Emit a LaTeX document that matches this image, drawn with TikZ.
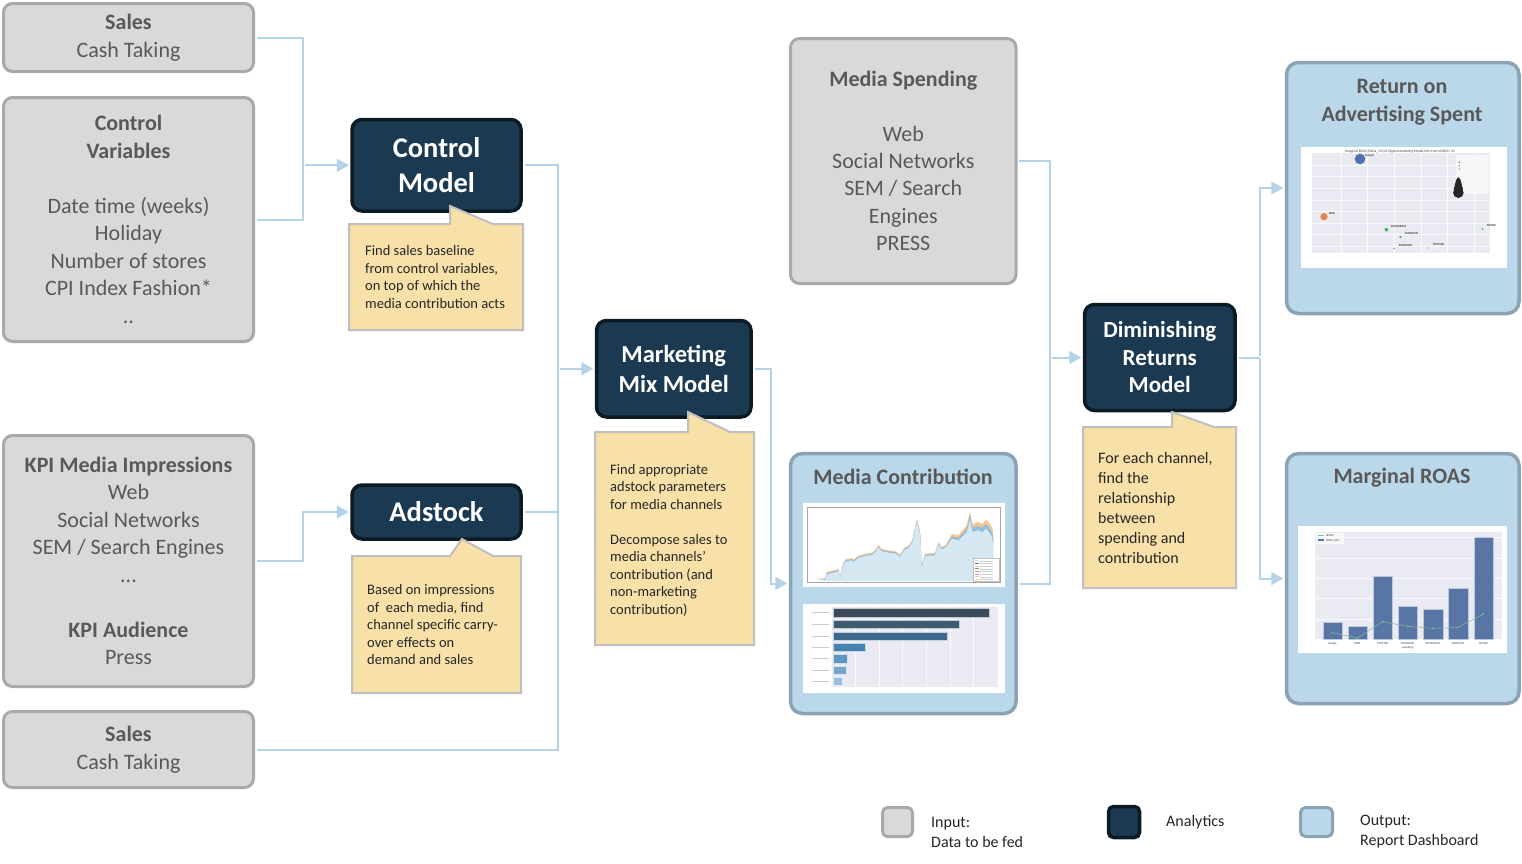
\documentclass[tikz,border=0pt]{standalone}
\usepackage{fontspec}
\setmainfont{Carlito}
\usetikzlibrary{arrows.meta,fit}
\definecolor{inFill}{HTML}{D9D9D9}
\definecolor{inDraw}{HTML}{A9A9A9}
\definecolor{inText}{HTML}{595959}
\definecolor{anFill}{HTML}{1B3A52}
\definecolor{anDraw}{HTML}{0C1A24}
\definecolor{outFill}{HTML}{BAD8EA}
\definecolor{outDraw}{HTML}{8CA3B4}
\definecolor{coFill}{HTML}{F8E1A9}
\definecolor{coDraw}{HTML}{BFBFBF}
\definecolor{coText}{HTML}{262626}
\definecolor{connC}{HTML}{B4D3E9}
\definecolor{plotBg}{HTML}{EAEAF2}
\definecolor{gridW}{HTML}{FAFAFD}
\definecolor{areaL}{HTML}{D5E7F1}
\definecolor{areaB}{HTML}{8FC0DF}
\definecolor{areaO}{HTML}{F9C58F}
\definecolor{hb1}{HTML}{394B5A}
\definecolor{hb2}{HTML}{3C5A71}
\definecolor{hb3}{HTML}{3D6A8C}
\definecolor{hb4}{HTML}{4682B0}
\definecolor{hb5}{HTML}{5F95C0}
\definecolor{hb6}{HTML}{78A6CB}
\definecolor{hb7}{HTML}{9BBDD8}
\definecolor{scBlue}{HTML}{4C72B0}
\definecolor{scOrange}{HTML}{DD8452}
\definecolor{scGreen}{HTML}{55A868}
\definecolor{barB}{HTML}{5875A6}
\definecolor{lineG}{HTML}{7FBF8A}
\begin{document}
\begin{tikzpicture}[x=1pt,y=-1pt,
  inbox/.style={draw=inDraw, fill=inFill, line width=3pt, rounded corners=9pt, inner sep=0pt, text=inText, align=center, font=\fontsize{22}{27.5}\selectfont},
  anbox/.style={draw=anDraw, fill=anFill, line width=3.5pt, rounded corners=10pt, inner sep=0pt, text=white, align=center},
  outbox/.style={draw=outDraw, fill=outFill, line width=3.5pt, rounded corners=12pt, inner sep=0pt},
  outtitle/.style={text=inText, align=center, inner sep=0pt, font=\bfseries\fontsize{22}{27.5}\selectfont},
  callout/.style={draw=coDraw, fill=coFill, line width=2pt},
  cotext/.style={text=coText, align=left, inner sep=0pt, anchor=west, font=\fontsize{14.5}{17.5}\selectfont},
  conn/.style={draw=connC, line width=2pt, shorten <=1.75pt},
  arr/.style={conn, -{Triangle[length=12pt,width=13pt]}, shorten >=1.5pt},
  legtext/.style={text=coText, align=left, inner sep=0pt, anchor=west, font=\fontsize{16}{20}\selectfont},
  tiny/.style={inner sep=0pt, text=black!75, font=\fontsize{3}{3.5}\selectfont},
  gridline/.style={draw=gridW, line width=0.9pt}
]
\useasboundingbox (0,0) rectangle (1522,863);
\fill[white] (0,0) rectangle (1522,863);

% ---------- input boxes ----------
\node[inbox, minimum width=250pt, minimum height=68pt] (s1) at (128.5,37.5) {\textbf{Sales}\\Cash Taking};
\node[inbox, minimum width=250pt, minimum height=244pt] (cv) at (128.5,219.5) {\textbf{Control}\\\textbf{Variables}\\[27.5pt]Date time (weeks)\\Holiday\\Number of stores\\CPI Index Fashion*\\..};
\node[inbox, minimum width=250pt, minimum height=251pt] (kpi) at (128.5,561) {\textbf{KPI Media Impressions}\\Web\\Social Networks\\SEM / Search Engines\\...\\[27.5pt]\textbf{KPI Audience}\\Press};
\node[inbox, minimum width=250pt, minimum height=76pt] (s2) at (128.5,749.5) {\textbf{Sales}\\Cash Taking};
\node[inbox, minimum width=225.5pt, minimum height=245pt, font=\fontsize{22}{27.3}\selectfont] (ms) at (903.25,161) {\textbf{Media Spending}\\[27.3pt]Web\\Social Networks\\SEM / Search\\Engines\\PRESS};

% ---------- analytics boxes ----------
\node[anbox, minimum width=169pt, minimum height=91.5pt, font=\bfseries\fontsize{28.5}{35}\selectfont] (cm) at (436.5,165.25) {Control\\Model};
\node[anbox, minimum width=169pt, minimum height=54pt, font=\bfseries\fontsize{28.5}{35}\selectfont] (ad) at (436.5,512) {Adstock};
\node[anbox, minimum width=154.5pt, minimum height=96.5pt, font=\bfseries\fontsize{24.5}{29.5}\selectfont] (mmm) at (673.75,368.75) {Marketing\\Mix Model};
\node[anbox, minimum width=150.5pt, minimum height=106pt, font=\bfseries\fontsize{23}{27.5}\selectfont] (drm) at (1159.75,357.5) {Diminishing\\Returns\\Model};

% ---------- output boxes ----------
\node[outbox, fit={(790.5,453.5) (1016,713.5)}] (mc) {};
\node[outbox, fit={(1286.5,62.5) (1519,313.5)}] (roas) {};
\node[outbox, fit={(1286.5,453.5) (1519,703.5)}] (mroas) {};
\node[outtitle] (mct) at (903,477) {Media Contribution};
\node[outtitle] (roast) at (1402,102) {Return on\\Advertising Spent};
\node[outtitle] (mroast) at (1402,478) {Marginal ROAS};

% ---------- callouts ----------
\path[callout] (349,224) -- (450,224) -- (450,206) -- (493,224) -- (523,224) -- (523,330) -- (349,330) -- cycle;
\node[cotext] (c1t) at (365,277) {Find sales baseline\\from control variables,\\on top of which the\\media contribution acts};
\path[callout] (352,556) -- (450,556) -- (462,539) -- (493,556) -- (521,556) -- (521,693) -- (352,693) -- cycle;
\node[cotext] (c2t) at (367,625) {Based on impressions\\of \ each media, find\\channel specific carry-\\over effects on\\demand and sales};
\path[callout] (595,432) -- (688,432) -- (688,412) -- (730,432) -- (754,432) -- (754,645) -- (595,645) -- cycle;
\node[cotext] (c3t) at (610,540) {Find appropriate\\adstock parameters\\for media channels\\[17.5pt]Decompose sales to\\media channels’\\contribution (and\\non-marketing\\contribution)};
\path[callout] (1083,427) -- (1172,427) -- (1172,412) -- (1214,427) -- (1236,427) -- (1236,588) -- (1083,588) -- cycle;
\node[cotext, font=\fontsize{16}{20}\selectfont] (c4t) at (1098,508) {For each channel,\\find the\\relationship\\between\\spending and\\contribution};

% ---------- connectors ----------
\coordinate (j1) at (303,165.25);
\draw[conn] (s1.east) -| (j1);
\draw[conn] (cv.east) -| (j1);
\draw[arr] (j1) -- (cm.west);
\draw[arr] (kpi.east) -- ++(48,0) |- (ad.west);
\coordinate (j2) at (558,368.75);
\draw[conn] (cm.east) -| (j2);
\draw[conn] (ad.east) -| (j2);
\draw[conn] (s2.east) -| (j2);
\draw[arr] (j2) -- (mmm.west);
\draw[arr] (mmm.east) -- ++(18,0) |- (mc.west);
\coordinate (j3) at (1050,357.5);
\draw[conn] (ms.east) -| (j3);
\draw[conn] (mc.east) -| (j3);
\draw[arr] (j3) -- (drm.west);
\draw[conn] (drm.east) -- ++(23,0) coordinate (j4);
\draw[arr] (j4) |- (roas.west);
\draw[arr] (j4) |- (mroas.west);

% ---------- chart 1: stacked area ----------
\begin{scope}[shift={(785,450)}, scale=1/3]
\fill[white] (55,160) rectangle (660,410);
\draw[black!35, line width=0.3pt] (65,170) rectangle (645,395);
\foreach \s/\c in {7/areaO, 3.5/areaB, 0/areaL}{
\fill[\c, yshift=\s pt] (95,393) -- (120,391) -- (125,373) -- (140,369) -- (155,366) -- (160,362) -- (165,386) -- (175,346) -- (182,335) -- (200,331) -- (207,336) -- (218,325) -- (240,318) -- (262,315) -- (272,305) -- (280,292) -- (290,304) -- (312,308) -- (332,311) -- (345,321) -- (356,302) -- (372,292) -- (382,277) -- (392,228) -- (396,215) -- (402,235) -- (406,262) -- (410,352) -- (420,318) -- (450,316) -- (460,284) -- (470,298) -- (482,292) -- (500,265) -- (520,271) -- (545,246) -- (555,205) -- (563,245) -- (578,240) -- (592,245) -- (602,235) -- (612,245) -- (620,258) -- (624,278) -- (624,393) -- cycle;}
\fill[areaO] (482,288) -- (500,252) -- (520,256) -- (545,226) -- (555,185) -- (563,224) -- (578,216) -- (592,222) -- (602,210) -- (612,218) -- (620,232) -- (624,242) -- (624,278) -- (620,258) -- (612,245) -- (602,235) -- (592,245) -- (578,240) -- (563,245) -- (555,205) -- (545,246) -- (520,271) -- (500,265) -- (482,292) -- cycle;
\fill[areaB] (482,290) -- (500,259) -- (520,264) -- (545,236) -- (555,195) -- (563,234) -- (578,228) -- (592,233) -- (602,222) -- (612,231) -- (620,245) -- (624,260) -- (624,278) -- (620,258) -- (612,245) -- (602,235) -- (592,245) -- (578,240) -- (563,245) -- (555,205) -- (545,246) -- (520,271) -- (500,265) -- (482,292) -- cycle;
\draw[black!25, fill=white, line width=0.2pt] (565,325) rectangle (642,393);
\foreach \i/\c in {0/areaL,1/scBlue,2/orange!40,3/scGreen,4/red!50,5/violet!40,6/brown!40,7/areaO}{
\draw[\c, line width=0.5pt] (570,{332+8*\i}) -- (582,{332+8*\i});
\draw[black!20, line width=0.3pt] (586,{332+8*\i}) -- (625,{332+8*\i});}
\end{scope}

% ---------- chart 2: horizontal bars ----------
\begin{scope}[shift={(785,450)}, scale=1/3]
\fill[white] (55,462) rectangle (660,730);
\fill[plotBg] (140,470) rectangle (640,710);
\foreach \x in {212,283,353,425,495,566}{\draw[gridline] (\x,470) -- (\x,710);}
\foreach \a/\b/\r/\c in {475/500/613/hb1, 510/535/522/hb2, 545/570/485/hb3, 578/603/241/hb4, 613/638/185/hb5, 647/672/182/hb6, 682/706/170/hb7}{
\fill[\c, draw=white!70!\c, line width=0.3pt] (143,\a) rectangle (\r,\b);
\draw[black!20, line width=0.4pt] (80,{(\a+\b)/2}) -- (132,{(\a+\b)/2});}
\end{scope}

% ---------- chart 3: scatter ----------
\begin{scope}[shift={(1280,140)}, scale=1/3]
\fill[white] (63,20) rectangle (680,383);
\fill[plotBg] (95,40) rectangle (630,338);
\foreach \x in {183,263,343,423,503,583}{\draw[gridline] (\x,40) -- (\x,338);}
\foreach \y in {75,110,145,180,214,249,284,318}{\draw[gridline] (95,\y) -- (630,\y);}
\node[tiny, font=\fontsize{3.6}{4}\selectfont] (sct) at (360,33) {Marginal ROAS (Delta\_1\%) of Digital Marketing Media Mix from MARCH '21};
\fill[scBlue, draw=white, line width=0.3pt] (240,57) circle (17);
\fill[scOrange, draw=white, line width=0.3pt] (132,230) circle (12);
\fill[scGreen, draw=white, line width=0.3pt] (319,269) circle (6.5);
\fill[scGreen, draw=white, line width=0.3pt] (361,291) circle (5);
\fill[scGreen] (342,325) circle (2.5);
\fill[scGreen] (446,324) circle (2);
\fill[scGreen] (607,267) circle (3);
\fill[white!60!plotBg] (528,45) rectangle (628,162);
\fill[scBlue] (538,67) circle (2.5);
\fill[scOrange] (538,77) circle (2.5);
\fill[scGreen] (538,87) circle (2.5);
\foreach \y/\r in {158/16,146/14,134/11,124/8,117/5}{\fill[black!85] (535,\y) circle (\r);}
\node[tiny, font=\bfseries\fontsize{3}{3.5}\selectfont, anchor=west] (lgo) at (255,47) {Google};
\node[tiny, font=\bfseries\fontsize{3}{3.5}\selectfont, anchor=west] (lwe) at (146,220) {WEB};
\node[tiny, font=\bfseries\fontsize{3}{3.5}\selectfont, anchor=west] (lin) at (332,259) {INSTAGRAM};
\node[tiny, font=\bfseries\fontsize{3}{3.5}\selectfont, anchor=west] (lfa) at (374,281) {FACEBOOK};
\node[tiny, font=\bfseries\fontsize{3}{3.5}\selectfont, anchor=west] (lsn) at (356,317) {SNAPCHAT};
\node[tiny, font=\bfseries\fontsize{3}{3.5}\selectfont, anchor=west] (ltw) at (458,315) {TWITTER};
\node[tiny, font=\bfseries\fontsize{3}{3.5}\selectfont, anchor=west] (ltt) at (620,257) {TIKTOK};
\end{scope}

% ---------- chart 4: bars + line ----------
\begin{scope}[shift={(1280,520)}, scale=1/3]
\fill[white] (53,18) rectangle (680,398);
\fill[plotBg] (105,35) rectangle (665,358);
\foreach \y in {297,236,175,114,53}{\draw[gridline] (105,\y) -- (665,\y);}
\foreach \l/\t in {128/307,203/318,279/168,354/257,430/268,505/204,581/52}{
\fill[barB, draw=white!60!barB, line width=0.3pt] (\l,\t) rectangle (\l+58,357);}
\draw[lineG, line width=0.5pt] (157,338) -- (232,354) -- (308,305) -- (383,319) -- (459,325) -- (534,322) -- (610,282);
\foreach \p in {(157,338),(232,354),(308,305),(383,319),(459,325),(534,322),(610,282)}{\fill[lineG] \p circle (3);}
\fill[white!70!plotBg] (108,38) rectangle (192,72);
\draw[lineG, line width=0.5pt] (113,47) -- (133,47);
\fill[barB] (113,58) rectangle (133,64);
\node[tiny, anchor=west] (lg4a) at (138,47) {iROAS};
\node[tiny, anchor=west] (lg4b) at (138,61) {ROAS\_AVG};
\foreach \x/\n [count=\k] in {157/Google,232/WEB,308/TWITTER,383/FACEBOOK,459/INSTAGRAM,534/SNAPCHAT,610/TIKTOK}{
\node[tiny] (xl\k) at (\x,370) {\n};}
\node[tiny] (xlab) at (383,382) {spending};
\end{scope}

% ---------- legend ----------
\node[inbox, rounded corners=5pt, fit={(882.5,807.5) (912.5,836.5)}] (lg1) {};
\node[anbox, rounded corners=5pt, fit={(1108.5,806.5) (1139.5,837.5)}] (lg2) {};
\node[outbox, rounded corners=5pt, line width=3pt, fit={(1300.5,807.5) (1332.5,836.5)}] (lg3) {};
\node[legtext] (lg1t) at (931,832) {Input:\\Data to be fed};
\node[legtext] (lg2t) at (1166,822) {Analytics};
\node[legtext] (lg3t) at (1360,832) {Output:\\Report Dashboard};
\end{tikzpicture}
\end{document}
